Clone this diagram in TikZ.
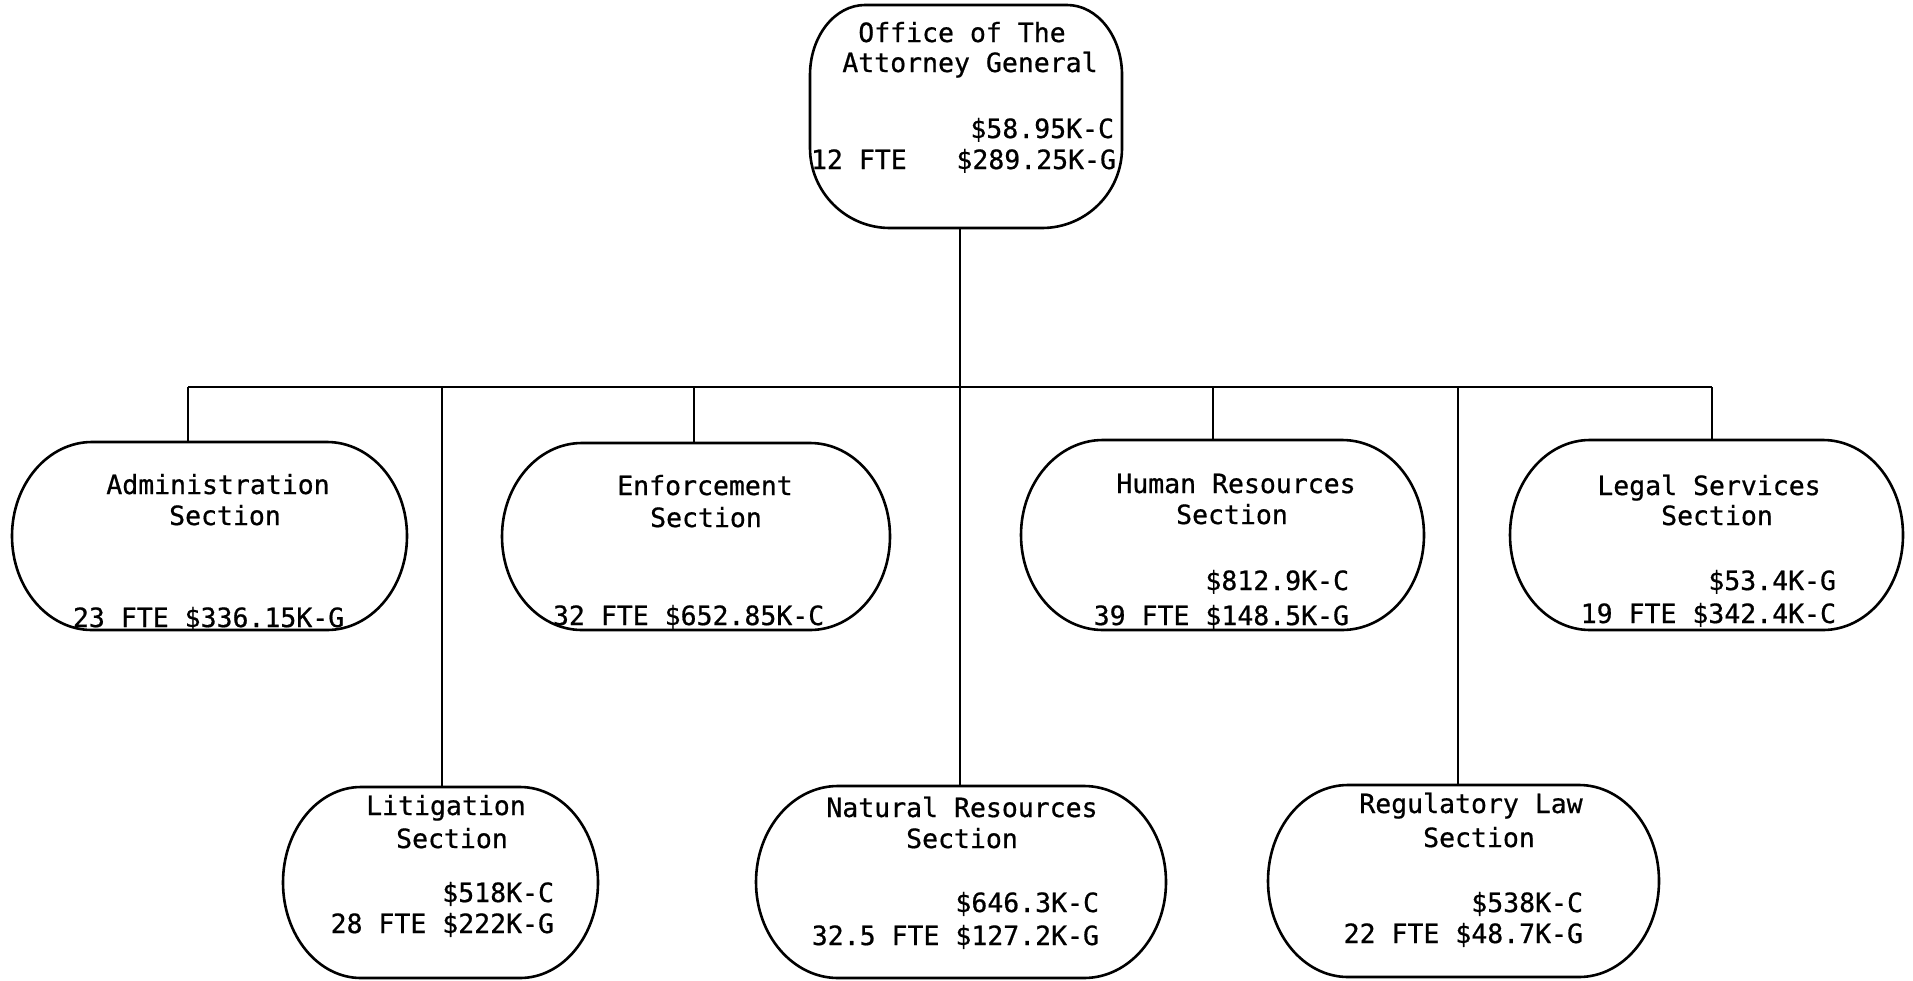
\documentclass[tikz,border=0pt]{standalone}
\usepackage{fontspec}
\newfontfamily\monofam[FakeBold=0.7]{DejaVu Sans Mono}
\usetikzlibrary{calc}
\tikzset{
  boxline/.style={line width=2.6pt},
  conn/.style={line width=2.2pt},
  holder/.style={draw=none,rectangle,inner sep=0pt,outer sep=0pt},
  lbl/.style={inner sep=0pt,outer sep=0pt,font=\monofam\fontsize{26.5}{32}\selectfont},
}
% outline with elliptical corners: name, top rx, top ry, bottom rx, bottom ry
\newcommand\eboxoutline[5]{%
  \draw[boxline] ($(#1.north west)+(#2,0)$) -- ($(#1.north east)+(-#2,0)$)
    arc[start angle=90,end angle=0,x radius=#2pt,y radius=#3pt]
    -- ($(#1.south east)+(0,#5)$)
    arc[start angle=0,end angle=-90,x radius=#4pt,y radius=#5pt]
    -- ($(#1.south west)+(#4,0)$)
    arc[start angle=270,end angle=180,x radius=#4pt,y radius=#5pt]
    -- ($(#1.north west)+(0,-#3)$)
    arc[start angle=180,end angle=90,x radius=#2pt,y radius=#3pt] -- cycle;}
% box: name, x0, x1, y0, y1 (pixel coords, y downwards)
\newcommand\placebox[5]{%
  \node[holder,minimum width={(#3-#2)*1pt},minimum height={(#5-#4)*1pt}]
    (#1) at ({(#2+#3)/2},{-(#4+#5)/2}) {};}
\begin{document}
\begin{tikzpicture}[x=1pt,y=1pt]
\useasboundingbox (0,0) rectangle (1913,-980);
\fill[white] (0,0) rectangle (1913,-980);

% boxes
\placebox{office}{810}{1122}{5}{228}
\placebox{admin}{12}{407}{442}{630}
\placebox{enforce}{502}{890}{443}{630}
\placebox{human}{1021}{1424}{440}{630}
\placebox{legal}{1510}{1903}{440}{630}
\placebox{litig}{283}{598}{787}{978}
\placebox{natres}{756}{1166}{786}{978}
\placebox{regul}{1268}{1659}{785}{977}

\eboxoutline{office}{55}{70}{80}{80}
\eboxoutline{admin}{80}{94}{80}{94}
\eboxoutline{enforce}{80}{93.5}{80}{93.5}
\eboxoutline{human}{82}{95}{82}{95}
\eboxoutline{legal}{80}{95}{80}{95}
\eboxoutline{litig}{78}{95.5}{78}{95.5}
\eboxoutline{natres}{82}{96}{82}{96}
\eboxoutline{regul}{80}{96}{80}{96}

% connectors
\coordinate (busL) at (188,-387);
\coordinate (busR) at (1712,-387);
\coordinate (tLit) at (442,-387);
\coordinate (tEnf) at (694,-387);
\coordinate (tNat) at (960,-387);
\coordinate (tHum) at (1213,-387);
\coordinate (tReg) at (1458,-387);
\draw[conn] (busL) -- (busR);
\draw[conn] (tNat |- office.south) -- (tNat |- natres.north);
\draw[conn] (busL) -- (busL |- admin.north);
\draw[conn] (tLit) -- (tLit |- litig.north);
\draw[conn] (tEnf) -- (tEnf |- enforce.north);
\draw[conn] (tHum) -- (tHum |- human.north);
\draw[conn] (tReg) -- (tReg |- regul.north);
\draw[conn] (busR) -- (busR |- legal.north);

% texts: office
\node[lbl,anchor=base] (o1) at (962,-42) {Office of The};
\node[lbl,anchor=base] (o2) at (970,-72) {Attorney General};
\node[lbl,anchor=base east] (o3) at (1114,-138) {\$58.95K-C};
\node[lbl,anchor=base east] (o4) at (1116,-169) {\$289.25K-G};
\node[lbl,anchor=base west] (o5) at (811,-169) {12 FTE};

% administration
\node[lbl,anchor=base] (a1) at (218,-494) {Administration};
\node[lbl,anchor=base] (a2) at (225,-525) {Section};
\node[lbl,anchor=base west] (a3) at (73,-627) {23 FTE \$336.15K-G};

% enforcement
\node[lbl,anchor=base] (e1) at (705,-495) {Enforcement};
\node[lbl,anchor=base] (e2) at (706,-527) {Section};
\node[lbl,anchor=base west] (e3) at (553,-625) {32 FTE \$652.85K-C};

% human resources
\node[lbl,anchor=base] (h1) at (1236,-493) {Human Resources};
\node[lbl,anchor=base] (h2) at (1232,-524) {Section};
\node[lbl,anchor=base east] (h3) at (1349,-590) {\$812.9K-C};
\node[lbl,anchor=base east] (h4) at (1349,-625) {39 FTE \$148.5K-G};

% legal services
\node[lbl,anchor=base] (l1) at (1709,-495) {Legal Services};
\node[lbl,anchor=base] (l2) at (1717,-525) {Section};
\node[lbl,anchor=base east] (l3) at (1836,-590) {\$53.4K-G};
\node[lbl,anchor=base east] (l4) at (1836,-623) {19 FTE \$342.4K-C};

% litigation
\node[lbl,anchor=base] (t1) at (446,-815) {Litigation};
\node[lbl,anchor=base] (t2) at (452,-848) {Section};
\node[lbl,anchor=base east] (t3) at (554,-902) {\$518K-C};
\node[lbl,anchor=base east] (t4) at (554,-933) {28 FTE \$222K-G};

% natural resources
\node[lbl,anchor=base] (n1) at (962,-817) {Natural Resources};
\node[lbl,anchor=base] (n2) at (962,-848) {Section};
\node[lbl,anchor=base east] (n3) at (1099,-912) {\$646.3K-C};
\node[lbl,anchor=base east] (n4) at (1099,-945) {32.5 FTE \$127.2K-G};

% regulatory law
\node[lbl,anchor=base] (r1) at (1471,-813) {Regulatory Law};
\node[lbl,anchor=base] (r2) at (1479,-847) {Section};
\node[lbl,anchor=base east] (r3) at (1583,-912) {\$538K-C};
\node[lbl,anchor=base east] (r4) at (1583,-943) {22 FTE \$48.7K-G};
\end{tikzpicture}
\end{document}
